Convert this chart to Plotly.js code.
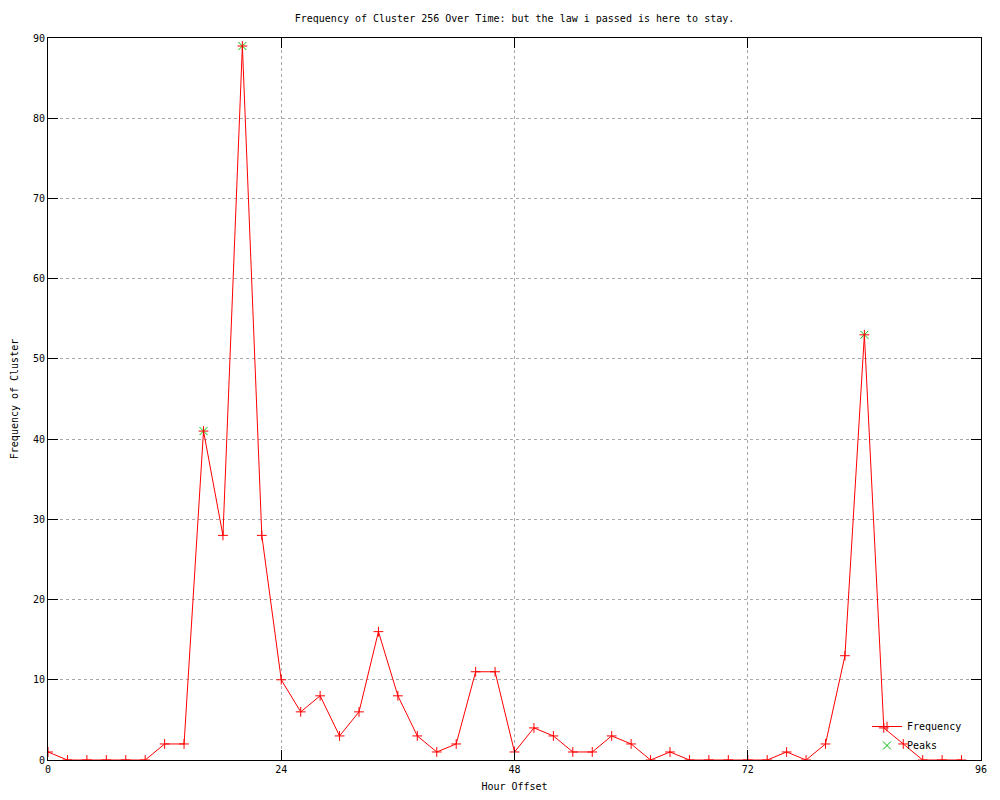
<!DOCTYPE html>
<html>
<head>
<meta charset="utf-8">
<script src="https://cdn.plot.ly/plotly-3.0.1.min.js"></script>
<style>body{margin:0;padding:0;background:#fff;}</style>
</head>
<body>
<div id="chart" style="width:1000px;height:800px;"></div>
<script>
// Data
var hours = [0,2,4,6,8,10,12,14,16,18,20,22,24,26,28,30,32,34,36,38,40,42,44,46,48,50,52,54,56,58,60,62,64,66,68,70,72,74,76,78,80,82,84,86,88,90,92,94];
var frequency = [1,0,0,0,0,0,2,2,41,28,89,28,10,6,8,3,6,16,8,3,1,2,11,11,1,4,3,1,1,3,2,0,1,0,0,0,0,0,1,0,2,13,53,4,2,0,0,0];
var peakHours = [16,20,84];
var peakValues = [41,89,53];
var xTicks = [0,24,48,72,96];
var xTickLabels = ['0','24','48','72','96'];

var font = {family: '"DejaVu Sans Mono", "Liberation Mono", monospace', size: 10, color: '#000'};

var traces = [
  {
    x: peakHours, y: peakValues, name: 'Peaks', type: 'scatter', mode: 'markers', legendrank: 2,
    marker: {symbol: 'x-thin-open', size: 8, color: '#00c000', line: {color: '#00c000', width: 1}}
  },
  {
    x: hours, y: frequency, name: 'Frequency', type: 'scatter', mode: 'lines+markers', legendrank: 1,
    line: {color: '#ff0000', width: 1},
    marker: {symbol: 'cross-thin-open', size: 7, color: '#ff0000', line: {color: '#ff0000', width: 1}}
  }
];

var axisCommon = {
  showline: true, linecolor: '#000', linewidth: 1, mirror: 'ticks',
  ticks: 'inside', ticklen: 10, tickcolor: '#000', tickwidth: 1,
  showgrid: true, gridcolor: '#a8a8a8', griddash: 'dot', gridwidth: 1,
  zeroline: false, tickfont: font
};

var layout = {
  width: 1000, height: 800,
  margin: {l: 48, r: 19, t: 38, b: 40},
  paper_bgcolor: '#fff', plot_bgcolor: '#fff',
  font: font,
  title: {text: 'Frequency of Cluster 256 Over Time: but the law i passed is here to stay.', font: font, x: 0.5, xref: 'paper', y: 0.977, yanchor: 'middle'},
  xaxis: Object.assign({}, axisCommon, {
    range: [0, 96], tickvals: xTicks, ticktext: xTickLabels,
    title: {text: 'Hour Offset', font: font, standoff: 8}
  }),
  yaxis: Object.assign({}, axisCommon, {
    range: [0, 90], dtick: 10, tick0: 0,
    title: {text: 'Frequency of Cluster', font: font, standoff: 12}
  }),
  showlegend: true,
  legend: {x: 0.985, y: 0.0, xanchor: 'right', yanchor: 'bottom', bgcolor: 'rgba(0,0,0,0)', font: font, borderwidth: 0, tracegroupgap: 0, traceorder: 'normal'}
};

Plotly.newPlot('chart', traces, layout, {displayModeBar: false, staticPlot: true});
</script>
</body>
</html>
